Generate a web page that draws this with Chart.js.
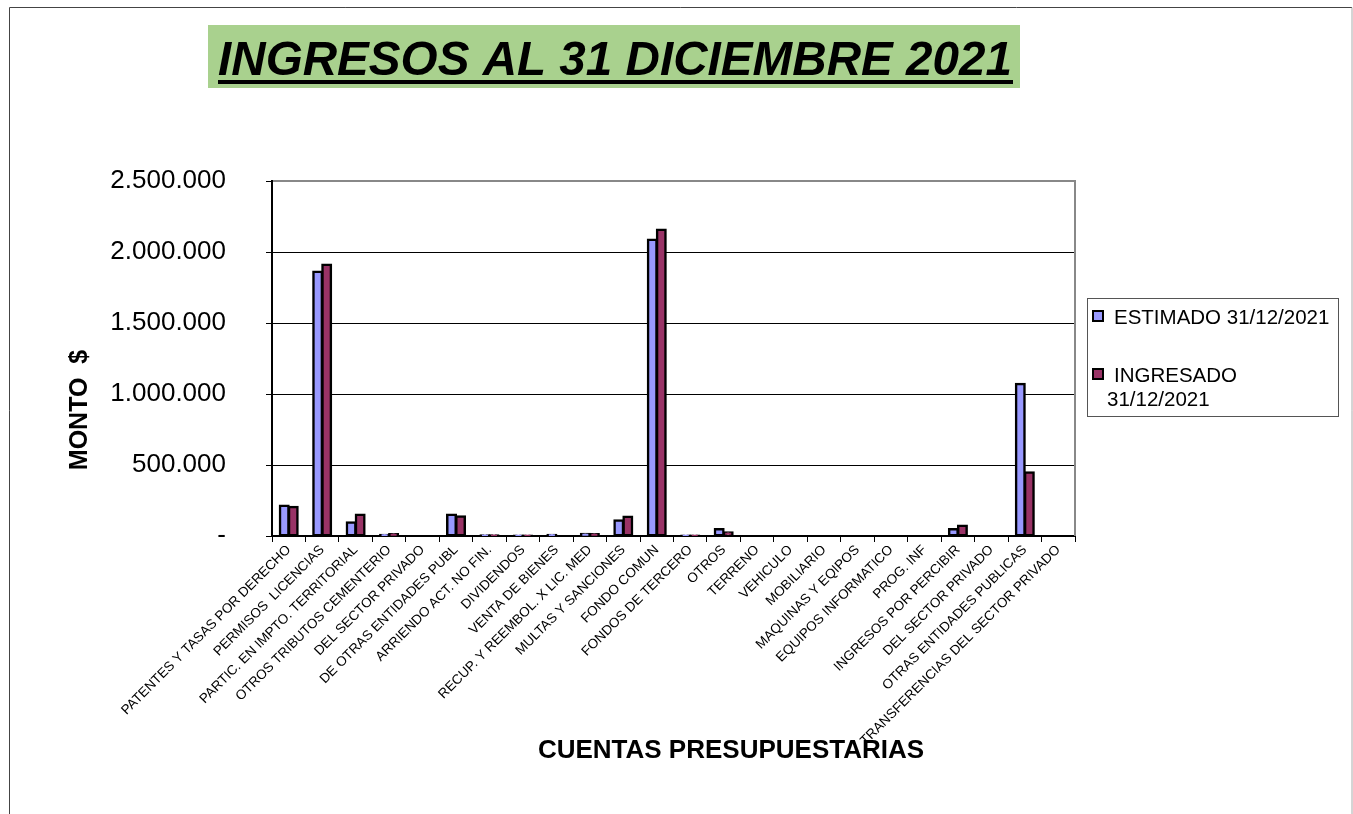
<!DOCTYPE html>
<html>
<head>
<meta charset="utf-8">
<script src="https://cdn.jsdelivr.net/npm/chart.js@4"></script>
<style>
  html, body { margin: 0; padding: 0; background: #fff; }
  canvas { display: block; }
</style>
</head>
<body>
<canvas id="c" width="1353" height="814"></canvas>
<script>
const categories = [
  "PATENTES Y TASAS POR DERECHO",
  "PERMISOS  LICENCIAS",
  "PARTIC. EN IMPTO. TERRITORIAL",
  "OTROS TRIBUTOS CEMENTERIO",
  "DEL SECTOR PRIVADO",
  "DE OTRAS ENTIDADES PUBL",
  "ARRIENDO ACT. NO FIN.",
  "DIVIDENDOS",
  "VENTA DE BIENES",
  "RECUP. Y REEMBOL. X LIC. MED",
  "MULTAS Y SANCIONES",
  "FONDO COMUN",
  "FONDOS DE TERCERO",
  "OTROS",
  "TERRENO",
  "VEHICULO",
  "MOBILIARIO",
  "MAQUINAS Y EQIPOS",
  "EQUIPOS INFORMATICO",
  "PROG. INF",
  "INGRESOS POR PERCIBIR",
  "DEL SECTOR PRIVADO",
  "OTRAS ENTIDADES PUBLICAS",
  "TRANSFERENCIAS DEL SECTOR PRIVADO"
];
const estimado = [215000, 1863000, 97000, 8000, 0, 151000, 5000, 3000, 8000, 15000, 111000, 2088000, 3000, 50000, 0, 0, 0, 0, 0, 0, 50000, 0, 1072000, 0];
const ingresado = [206000, 1912000, 151000, 14000, 0, 139000, 5000, 3000, 0, 14000, 137000, 2158000, 2000, 27000, 0, 0, 0, 0, 0, 0, 74000, 0, 449000, 0];
const seriesNames = ["ESTIMADO 31/12/2021", "INGRESADO 31/12/2021"];
const yTicks = [0, 500000, 1000000, 1500000, 2000000, 2500000];
const chartTitle = "INGRESOS AL 31 DICIEMBRE 2021";
const xTitle = "CUENTAS PRESUPUESTARIAS";
const yTitle = "MONTO  $";

const FONT = '"Liberation Sans", Arial, sans-serif';

function fmt(v) {
  if (v === 0) return "-";
  return String(Math.round(v)).replace(/\B(?=(\d{3})+(?!\d))/g, ".");
}

const decor = {
  id: 'decor',
  beforeDraw(chart) {
    const ctx = chart.ctx;
    ctx.save();
    ctx.fillStyle = '#fff';
    ctx.fillRect(0, 0, chart.width, chart.height);
    // outer frame
    ctx.strokeStyle = '#444';
    ctx.lineWidth = 1;
    ctx.beginPath();
    ctx.moveTo(9.5, 814);
    ctx.lineTo(9.5, 7.5);
    ctx.lineTo(1352, 7.5);
    ctx.stroke();
    ctx.strokeStyle = '#aaa';
    ctx.beginPath();
    ctx.moveTo(1352, 7.5);
    ctx.lineTo(1352, 814);
    ctx.stroke();
    // title box
    ctx.fillStyle = '#A9D18E';
    ctx.fillRect(208, 25, 812, 63);
    ctx.fillStyle = '#000';
    ctx.font = 'italic bold 49px ' + FONT;
    ctx.textBaseline = 'alphabetic';
    ctx.textAlign = 'left';
    const w = ctx.measureText(chartTitle).width;
    const target = 794;
    ctx.save();
    ctx.translate(218, 75);
    ctx.scale(target / w, 1);
    ctx.fillText(chartTitle, 0, 0);
    ctx.restore();
    ctx.fillRect(218, 80, 795, 4);
    ctx.restore();
  },
  afterDraw(chart) {
    const ctx = chart.ctx;
    const a = chart.chartArea;
    ctx.save();
    // gray top/right plot border
    ctx.strokeStyle = '#888';
    ctx.lineWidth = 2;
    ctx.beginPath();
    ctx.moveTo(a.left + 1, a.top);
    ctx.lineTo(a.right, a.top);
    ctx.lineTo(a.right, a.bottom);
    ctx.stroke();
    // axis titles
    ctx.fillStyle = '#000';
    ctx.font = 'bold 25px ' + FONT;
    ctx.textAlign = 'center';
    ctx.textBaseline = 'middle';
    ctx.save();
    ctx.translate(80, 410);
    ctx.rotate(-Math.PI / 2);
    ctx.fillText(yTitle, 0, 0);
    ctx.restore();
    ctx.font = 'bold 26px ' + FONT;
    ctx.fillText(xTitle, 731, 751);
    // legend
    ctx.fillStyle = '#fff';
    ctx.fillRect(1087, 298, 251, 118);
    ctx.strokeStyle = '#555';
    ctx.lineWidth = 1;
    ctx.strokeRect(1087.5, 298.5, 251, 118);
    const ds = chart.data.datasets;
    ctx.font = '20.5px ' + FONT;
    ctx.textAlign = 'left';
    ctx.textBaseline = 'alphabetic';
    // item 1
    ctx.fillStyle = ds[0].backgroundColor;
    ctx.fillRect(1093, 311, 10, 10);
    ctx.strokeStyle = '#000';
    ctx.lineWidth = 2;
    ctx.strokeRect(1093, 311, 10, 10);
    ctx.fillStyle = '#000';
    ctx.fillText(ds[0].label, 1114, 324);
    // item 2
    ctx.fillStyle = ds[1].backgroundColor;
    ctx.fillRect(1093, 369, 10, 10);
    ctx.strokeRect(1093, 369, 10, 10);
    ctx.fillStyle = '#000';
    const parts = ds[1].label.split(' ');
    ctx.fillText(parts[0], 1114, 382);
    ctx.fillText(parts.slice(1).join(' '), 1107, 406);
    ctx.restore();
  }
};

new Chart(document.getElementById('c'), {
  type: 'bar',
  data: {
    labels: categories,
    datasets: [
      { label: seriesNames[0], data: estimado, backgroundColor: '#9999FF', borderColor: '#000', borderWidth: 2.5, borderSkipped: false, inflateAmount: 1 },
      { label: seriesNames[1], data: ingresado, backgroundColor: '#993366', borderColor: '#000', borderWidth: 2.5, borderSkipped: false, inflateAmount: 1 }
    ]
  },
  options: {
    responsive: false,
    animation: false,
    events: [],
    layout: { padding: { left: 0, right: 278, top: 181, bottom: 0 } },
    datasets: { bar: { categoryPercentage: 0.54, barPercentage: 1.0 } },
    plugins: { legend: { display: false }, title: { display: false }, tooltip: { enabled: false } },
    scales: {
      x: {
        afterFit(s) { s.height = 278; },
        grid: { display: true, drawOnChartArea: false, drawTicks: true, tickLength: 6, color: '#000', lineWidth: 1, offset: true },
        border: { display: true, color: '#000', width: 2 },
        ticks: { autoSkip: false, maxRotation: 45, minRotation: 45, color: '#000', font: { family: FONT, size: 13.5 }, padding: 0 }
      },
      y: {
        min: 0, max: 2500000,
        afterFit(s) { s.width = 272; },
        afterBuildTicks(s) { s.ticks = yTicks.map(v => ({ value: v })); },
        grid: { color: '#000', lineWidth: 1, drawTicks: true, tickLength: 6 },
        border: { display: true, color: '#000', width: 2 },
        ticks: { color: '#000', font: { family: FONT, size: 26 }, padding: 40, callback: (v) => fmt(v) }
      }
    }
  },
  plugins: [decor]
});
</script>
</body>
</html>
